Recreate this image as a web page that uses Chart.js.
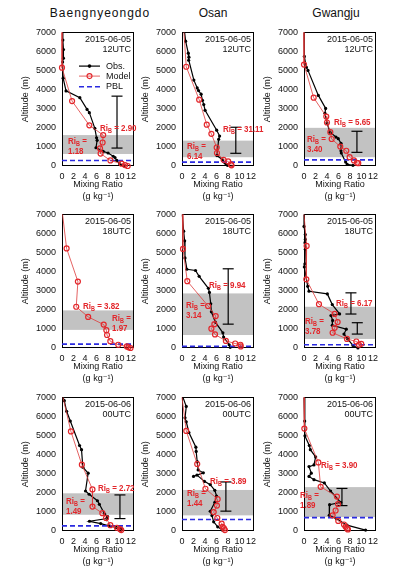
<!DOCTYPE html>
<html><head><meta charset="utf-8">
<script src="https://cdn.jsdelivr.net/npm/chart.js@4.4.1/dist/chart.umd.min.js"></script>
<style>
html,body{margin:0;padding:0;background:#fff;width:404px;height:578px;overflow:hidden;position:relative;}
canvas{position:absolute;}
.ttl{position:absolute;width:200px;text-align:center;font:12px "Liberation Sans",Arial,sans-serif;line-height:14px;color:#111;top:6px;}
</style></head><body>
<script>
// ---- categories / labels ----
const stations = ["Baengnyeongdo", "Osan", "Gwangju"];
const timeLabels = [["2015-06-05", "12UTC"], ["2015-06-05", "18UTC"], ["2015-06-06", "00UTC"]];
const xTicks = [0, 2, 4, 6, 8, 10, 12];
const yTicks = [0, 1000, 2000, 3000, 4000, 5000, 6000, 7000];
const seriesNames = ["Obs.", "Model", "PBL"];

// ---- observed profiles [mixing ratio g/kg, altitude m] ----
const obs1 = [[0.1,7000],[0.15,6600],[0.25,6100],[0.25,5650],[0.1,5450],[0.2,4600],[0.7,3935],[3.1,3580],[4.35,2965],[4.75,2795],[5.7,1975],[6.0,1480],[6.1,1345],[5.9,955],[7.15,765],[8.0,680],[8.9,510],[9.2,445],[9.5,290],[10.0,120],[10.7,15]];
const obs2 = [[0.45,7000],[0.63,6540],[1.09,5910],[1.2,5700],[1.15,5540],[2.06,4500],[2.64,4090],[2.87,3950],[3.32,3765],[3.55,3440],[3.78,3220],[4.01,2915],[6.02,1875],[6.53,1570],[6.36,1400],[6.07,545],[7.05,325],[7.45,170],[7.68,85],[7.9,35]];
const obs3 = [[0,7000],[0.06,5740],[0.4,5180],[0.69,5010],[2.49,3700],[3.76,3015],[3.64,2760],[3.99,2250],[4.51,1770],[5.55,1515],[5.95,1430],[6.42,1190],[6.42,800],[6.47,680],[7.23,205],[7.51,85],[8.5,35]];
const obs4 = [];
const obs5 = [[0.06,7000],[0.29,6120],[0.46,5615],[0.52,4720],[0.86,4125],[2.35,4060],[2.98,3755],[4.58,3130],[4.76,2910],[4.99,2315],[5.1,1895],[5.79,1355],[7.1,795],[7.22,575],[8.19,170],[8.37,35]];
const obs6 = [[0,7000],[0,6370],[0.23,5945],[0.23,5690],[0.17,5520],[0.23,5180],[0.17,4415],[0.06,4250],[0.64,3230],[0.87,2975],[4.05,2835],[4.91,2275],[6.18,1785],[4.68,1700],[4.97,1445],[4.91,1190],[7.34,985],[6.94,730],[7.57,475],[8.5,135],[9.36,0]];
const obs7 = [[0.2,7000],[0.4,6830],[0.8,6270],[1.44,5760],[3.05,4480],[3.39,4260],[3.62,3340],[4.54,3030],[4.08,2095],[4.71,1925],[6.15,1585],[6.49,1400],[7.41,885],[7.93,750],[7.82,650],[4.77,510],[6.72,390],[8.16,270],[9.43,185],[10.17,135],[10.29,50]];
const obs8 = [[0.17,7000],[0.74,6525],[0.52,5930],[0.74,5725],[1.2,5160],[2.41,4390],[2.46,4170],[2.64,3630],[2.81,3200],[3.7,3050],[2.0,2860],[2.6,2930],[3.9,2600],[4.9,2430],[5.7,2130],[6.0,1835],[5.7,1500],[4.9,1035],[5.2,810],[5.5,480],[6.2,220],[7.0,50]];
const obs9 = [[0,7000],[0.12,5760],[0.17,4990],[0.92,4480],[1.1,4260],[2.02,3880],[1.73,3460],[0.87,3375],[1.27,3030],[0.87,2860],[1.73,2690],[3.53,2520],[4.62,2095],[6.36,1500],[4.45,1380],[4.39,820],[5.61,650],[7.46,305],[10.69,50]];

// ---- model profiles ----
const model1 = [[0,7000],[0,5150],[1.75,3400],[4.75,2130],[7.15,1620],[7.05,1230],[6.6,920],[6.7,650],[8.4,290],[10.35,120],[10.95,50],[11.4,0]];
const model2 = [[0.34,7000],[0.74,5200],[2.98,3475],[4.3,2165],[5.1,1685],[6.02,970],[6.07,680],[7.22,325],[8.02,240],[8.48,85],[8.6,35]];
const model3 = [[0,7000],[0,5315],[1.68,3580],[3.87,2590],[3.99,2280],[4.57,1770],[4.8,1415],[6.3,1020],[7.34,800],[7.92,460],[8.67,290],[9.19,170],[9.42,150]];
const model4 = [[0.1,7000],[0.8,5215],[2.76,3480],[2.47,2160],[4.54,1630],[7.24,1225],[7.7,935],[7.82,680],[8.39,355],[9.77,170],[11.26,85],[11.55,35],[11.9,0]];
const model5 = [[0.06,7000],[0.17,5190],[0.92,3500],[4.53,2200],[5.85,1675],[5.62,1250],[5.1,1015],[5.73,710],[7.62,370],[9.23,235],[10.14,170],[10.2,85]];
const model6 = [[0,7000],[0.46,5350],[0.4,3600],[2.6,2295],[5.32,1785],[5.84,1360],[5.32,1055],[4.97,800],[7.46,475],[9.08,340],[9.94,220],[9.54,170]];
const model7 = [[0.17,7000],[1.55,5215],[3.45,3475],[5.29,2180],[5.29,1280],[7.01,935],[7.64,680],[8.39,305],[9.54,170],[10.06,100],[10.29,50]];
const model8 = [[0,7000],[0.74,5245],[2.64,3510],[4.07,2215],[6.19,1670],[6.07,1330],[5.5,990],[6.13,680],[6.88,390],[7.05,220],[7.28,135],[7.45,50]];
const model9 = [[0,7000],[0.06,5365],[2.49,3595],[2.89,2315],[5.72,1805],[5.9,1415],[5.49,1075],[4.97,820],[5.95,530],[6.94,340],[7.23,220],[7.46,135],[7.63,85]];

// ---- PBL heights, shaded layers, error bars (x, low, high), bulk Richardson numbers ----
const pblHeight = [290, 205, 320, 205, 85, 170, 270, 600, 700];
const layerBottom = [630, 460, 460, 950, 680, 475, 850, 820, 730];
const layerTop = [1620, 1330, 2000, 1970, 2860, 2160, 1975, 2150, 2300];
const errorBars = [[[9.55,940,3660]], [[9.34,665,2030]], [[9.19,715,1820]], [], [[8.02,1250,4150]], [[8.15,1780,2890],[9.25,730,1325]], [[10.06,650,1890]], [[7.62,1040,2570]], [[6.59,1330,2230]]];
const riUpper = ["2.90", "31.11", "5.65", "3.82", "9.94", "6.17", "2.72", "3.89", "3.90"];
const riLower = ["1.18", "6.14", "3.40", "1.97", "3.14", "3.78", "1.49", "1.44", "1.89"];

const obsList = [obs1, obs2, obs3, obs4, obs5, obs6, obs7, obs8, obs9];
const modelList = [model1, model2, model3, model4, model5, model6, model7, model8, model9];

// ---- layout (pixels) ----
const plotLefts = [62, 182, 304];
const plotTops = [29, 211, 394];
const PW = 72, PH = 137, YW = 46, PT = 8, XH = 37, PR = 12;
const X_MAX = 12.5;
// label offsets (left x, center y) relative to plot area
const riUpperPos = [[38,96],[41,97],[30,90],[21,92],[27,71],[32,89],[36,91],[28,84],[17,68]];
const riLowerPos = [[6,109],[5,114],[3,107],[50,104],[4,91],[1,107],[4,104],[5,96],[-4,98]];

const FONT = '"Liberation Sans", Arial, "DejaVu Sans", sans-serif';
const RED = '#e3262b';
const MODEL_LINE = '#dd3b3b';
const BLUE = '#2a2ae0';

// column titles
const titleCenters = [100, 213, 336];
stations.forEach((s, i) => {
  const d = document.createElement('div');
  d.className = 'ttl';
  d.textContent = s;
  d.style.left = (titleCenters[i] - 100) + 'px';
  if (i === 0) d.style.letterSpacing = '1px';
  document.body.appendChild(d);
});

// condensed bold red label "Ri_B" + suffix
function drawRi(ctx, x, y, suffix) {
  ctx.save();
  ctx.translate(x, y);
  ctx.scale(0.84, 1);
  ctx.font = 'bold 9.5px ' + FONT;
  ctx.fillText('Ri', 0, 0);
  let w = ctx.measureText('Ri').width;
  ctx.font = 'bold 6.5px ' + FONT;
  ctx.fillText('B', w, 2.6);
  w += ctx.measureText('B').width;
  ctx.font = 'bold 9.5px ' + FONT;
  ctx.fillText(suffix, w, 0);
  ctx.restore();
}
function drawPlain(ctx, x, y, txt) {
  ctx.save();
  ctx.translate(x, y);
  ctx.scale(0.84, 1);
  ctx.font = 'bold 9.5px ' + FONT;
  ctx.fillText(txt, 0, 0);
  ctx.restore();
}

function overlay(i) {
  const row = Math.floor(i / 3);
  return {
    id: 'overlay' + i,
    beforeDatasetsDraw(chart) {
      const {ctx, chartArea: a, scales: {y}} = chart;
      const yt = y.getPixelForValue(layerTop[i]), yb = y.getPixelForValue(layerBottom[i]);
      ctx.save();
      ctx.fillStyle = '#c2c2c2';
      ctx.fillRect(a.left, yt, a.right - a.left, yb - yt);
      ctx.strokeStyle = '#000';
      ctx.lineWidth = 1;
      ctx.strokeRect(Math.round(a.left) + 0.5, Math.round(a.top) + 0.5, Math.round(a.right - a.left) - 1, Math.round(a.bottom - a.top) - 1);
      ctx.restore();
    },
    afterDraw(chart) {
      const {ctx, chartArea: a} = chart;
      ctx.save();
      ctx.textBaseline = 'middle';
      // time label
      ctx.fillStyle = '#111';
      ctx.font = '9px ' + FONT;
      ctx.textAlign = 'right';
      ctx.fillText(timeLabels[row][0], a.right - 3, a.top + 6.7);
      ctx.fillText(timeLabels[row][1], a.right - 3, a.top + 16.7);
      // Ri labels
      ctx.textAlign = 'left';
      ctx.fillStyle = RED;
      drawRi(ctx, a.left + riUpperPos[i][0], a.top + riUpperPos[i][1], ' = ' + riUpper[i]);
      drawRi(ctx, a.left + riLowerPos[i][0], a.top + riLowerPos[i][1], ' =');
      drawPlain(ctx, a.left + riLowerPos[i][0], a.top + riLowerPos[i][1] + 10, riLower[i]);
      // legend in first panel, styled from the datasets
      if (i === 0) {
        const ds = chart.data.datasets;
        const items = [ds[0], ds[1], ds[2]];
        const ys = [33.7, 43.7, 54.3];
        items.forEach((d, k) => {
          const yy = a.top + ys[k];
          const x0 = a.left + 17, x1 = a.left + 38;
          ctx.save();
          ctx.strokeStyle = d.borderColor;
          ctx.lineWidth = d.borderWidth;
          ctx.setLineDash(d.borderDash || []);
          ctx.beginPath(); ctx.moveTo(x0, yy); ctx.lineTo(x1, yy); ctx.stroke();
          ctx.setLineDash([]);
          if (d.legendRadius) {
            ctx.beginPath();
            ctx.arc((x0 + x1) / 2, yy, d.legendRadius, 0, Math.PI * 2);
            if (d.legendFill) { ctx.fillStyle = d.pointBackgroundColor; ctx.fill(); }
            else { ctx.strokeStyle = d.pointBorderColor; ctx.lineWidth = 1.1; ctx.stroke(); }
          }
          ctx.restore();
          ctx.fillStyle = '#111';
          ctx.font = '9px ' + FONT;
          ctx.fillText(d.label, a.left + 44, yy);
        });
      }
      ctx.restore();
    }
  };
}

function makePanel(i) {
  const col = i % 3, row = Math.floor(i / 3);
  const W = YW + PW + PR, H = PT + PH + XH;
  const cv = document.createElement('canvas');
  cv.width = W; cv.height = H;
  cv.style.width = W + 'px'; cv.style.height = H + 'px';
  cv.style.left = (plotLefts[col] - YW) + 'px';
  cv.style.top = (plotTops[row] - PT) + 'px';
  document.body.appendChild(cv);

  const hideTop = (r) => (c) => (c.parsed && c.parsed.y >= 7000) ? 0 : r;
  const datasets = [
    { label: seriesNames[0], data: obsList[i], showLine: true, borderColor: '#000', borderWidth: 1.2,
      pointRadius: hideTop(1.6), pointBackgroundColor: '#000', pointBorderColor: '#000', pointBorderWidth: 0,
      legendRadius: 1.8, legendFill: true, order: 3, clip: false },
    { label: seriesNames[1], data: modelList[i], showLine: true, borderColor: MODEL_LINE, borderWidth: 0.8,
      pointRadius: hideTop(2.5), pointBackgroundColor: 'rgba(255,255,255,0)', pointBorderColor: RED, pointBorderWidth: 1.2,
      legendRadius: 2.5, legendFill: false, order: 1, clip: false },
    { label: seriesNames[2], data: [[0, pblHeight[i]], [X_MAX, pblHeight[i]]], showLine: true, borderColor: BLUE,
      borderWidth: 1.6, borderDash: [5, 3], pointRadius: 0, order: 2, clip: false }
  ];
  errorBars[i].forEach(e => {
    datasets.push({ label: 'range', data: [[e[0], e[1]], [e[0], e[2]]], showLine: true, borderColor: '#000',
      borderWidth: 1.2, pointStyle: 'line', pointRadius: 5.5, pointBorderColor: '#000', pointBorderWidth: 1.2,
      order: 4, clip: false });
  });

  new Chart(cv, {
    type: 'scatter',
    data: { datasets },
    options: {
      responsive: false, animation: false, devicePixelRatio: 1,
      layout: { padding: { top: PT, right: PR, left: 0, bottom: 0 } },
      plugins: { legend: { display: false }, tooltip: { enabled: false } },
      scales: {
        x: {
          type: 'linear', min: 0, max: X_MAX,
          afterBuildTicks: s => { s.ticks = xTicks.map(v => ({ value: v })); },
          afterFit: s => { s.height = XH; },
          grid: { display: false, drawTicks: false }, border: { display: false },
          ticks: { padding: 5, color: '#111', font: { family: FONT, size: 9 }, maxRotation: 0, autoSkip: false,
            callback: v => String(v) },
          title: { display: true, text: ['Mixing Ratio', '(g kg\u207B\u00B9)'], color: '#111',
            font: { family: FONT, size: 9, lineHeight: 1.333 }, padding: { top: 0, bottom: 0 } }
        },
        y: {
          type: 'linear', min: 0, max: 7000,
          afterBuildTicks: s => { s.ticks = yTicks.map(v => ({ value: v })); },
          afterFit: s => { s.width = YW; },
          grid: { display: false, drawTicks: false }, border: { display: false },
          ticks: { padding: 6, color: '#111', font: { family: FONT, size: 9 }, autoSkip: false,
            callback: v => String(v) },
          title: { display: true, text: 'Altitude (m)', color: '#111', font: { family: FONT, size: 9 } }
        }
      }
    },
    plugins: [overlay(i)]
  });
}

for (let i = 0; i < 9; i++) makePanel(i);
</script>
</body></html>
